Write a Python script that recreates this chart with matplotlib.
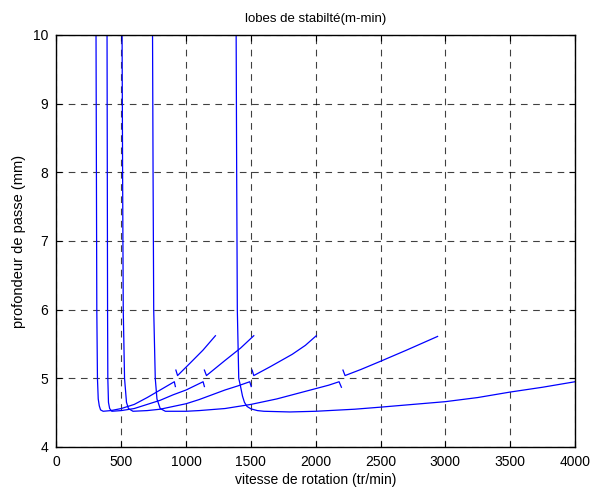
import matplotlib
matplotlib.use("Agg")
import matplotlib.pyplot as plt

plt.rcParams['font.family'] = ['Liberation Sans', 'DejaVu Sans']

# Lobe 1 (asymptote ~305 tr/min)
lobe1_speed = [305, 308, 311, 316, 322, 330, 340, 360, 420, 500, 600, 700, 800, 909, 917]
lobe1_depth = [10.0, 8.0, 6.0, 5.0, 4.70, 4.60, 4.54, 4.52, 4.53, 4.56, 4.62, 4.72, 4.83, 4.95, 4.88]

# Lobe 2 (asymptote ~390 tr/min)
lobe2_speed = [390, 392, 394, 396, 401, 410, 427, 500, 600, 700, 800, 900, 1000, 1131, 1141]
lobe2_depth = [10.0, 8.0, 6.0, 5.0, 4.65, 4.56, 4.52, 4.53, 4.56, 4.62, 4.68, 4.76, 4.83, 4.95, 4.88]

# Lobe 3 (asymptote ~506 tr/min)
lobe3_speed = [506, 510, 515, 525, 540, 555, 590, 700, 800, 900, 1000, 1100, 1200, 1300, 1400, 1491, 1502]
lobe3_depth = [10.0, 8.0, 6.0, 5.0, 4.65, 4.56, 4.52, 4.53, 4.55, 4.59, 4.63, 4.69, 4.76, 4.83, 4.89, 4.95, 4.88]

# Lobe 4 (asymptote ~741 tr/min)
lobe4_speed = [741, 745, 750, 762, 775, 800, 840, 1000, 1100, 1300, 1500, 1700, 1900, 2100, 2180, 2198]
lobe4_depth = [10.0, 8.0, 6.0, 5.0, 4.70, 4.56, 4.52, 4.52, 4.53, 4.56, 4.62, 4.70, 4.80, 4.90, 4.95, 4.87]

# Lobe 5 (asymptote ~1386 tr/min)
lobe5_speed = [1386, 1390, 1395, 1406, 1419, 1435, 1450, 1470, 1500, 1550, 1600, 1800, 2000, 2300, 2500, 2750, 3000, 3250, 3500, 3750, 4000]
lobe5_depth = [10.0, 8.0, 6.0, 5.0, 4.89, 4.74, 4.65, 4.59, 4.555, 4.53, 4.52, 4.51, 4.52, 4.55, 4.58, 4.62, 4.66, 4.72, 4.80, 4.87, 4.95]

# Upper detached segments
seg1_speed = [921, 934, 1030, 1130, 1226]
seg1_depth = [5.12, 5.04, 5.22, 5.41, 5.62]
seg2_speed = [1141, 1157, 1300, 1420, 1522]
seg2_depth = [5.12, 5.04, 5.26, 5.44, 5.62]
seg3_speed = [1509, 1522, 1650, 1819, 1920, 2004]
seg3_depth = [5.12, 5.04, 5.17, 5.35, 5.48, 5.62]
seg4_speed = [2210, 2226, 2350, 2502, 2700, 2940]
seg4_depth = [5.12, 5.04, 5.13, 5.25, 5.41, 5.61]

xticks = [0, 500, 1000, 1500, 2000, 2500, 3000, 3500, 4000]
yticks = [4, 5, 6, 7, 8, 9, 10]

fig = plt.figure(figsize=(5.94, 4.90), dpi=100)
ax = fig.add_axes([0.0951, 0.0878, 0.8729, 0.8408])

curves = [(lobe1_speed, lobe1_depth), (lobe2_speed, lobe2_depth),
          (lobe3_speed, lobe3_depth), (lobe4_speed, lobe4_depth),
          (lobe5_speed, lobe5_depth), (seg1_speed, seg1_depth),
          (seg2_speed, seg2_depth), (seg3_speed, seg3_depth),
          (seg4_speed, seg4_depth)]
for xs, ys in curves:
    ax.plot(xs, ys, color='#0000ff', linewidth=0.9)

ax.set_xlim(0, 4000)
ax.set_ylim(4, 10)
ax.set_xticks(xticks)
ax.set_yticks(yticks)
ax.tick_params(direction='in', length=4, labelsize=10, top=True, right=True,
               labeltop=False, labelright=False, width=0.8)
ax.tick_params(axis='x', pad=6)
ax.tick_params(axis='y', pad=6)
ax.grid(True, color='black', linestyle=(0, (6, 5)), linewidth=0.8, alpha=0.75)
for s in ax.spines.values():
    s.set_linewidth(1.0)

ax.set_title('lobes de stabilté(m-min)', fontsize=9.5, pad=9)
ax.set_xlabel('vitesse de rotation (tr/min)', fontsize=10, labelpad=3)
ax.set_ylabel('profondeur de passe (mm)', fontsize=10.5, labelpad=5)

fig.savefig('out.png', dpi=100)
